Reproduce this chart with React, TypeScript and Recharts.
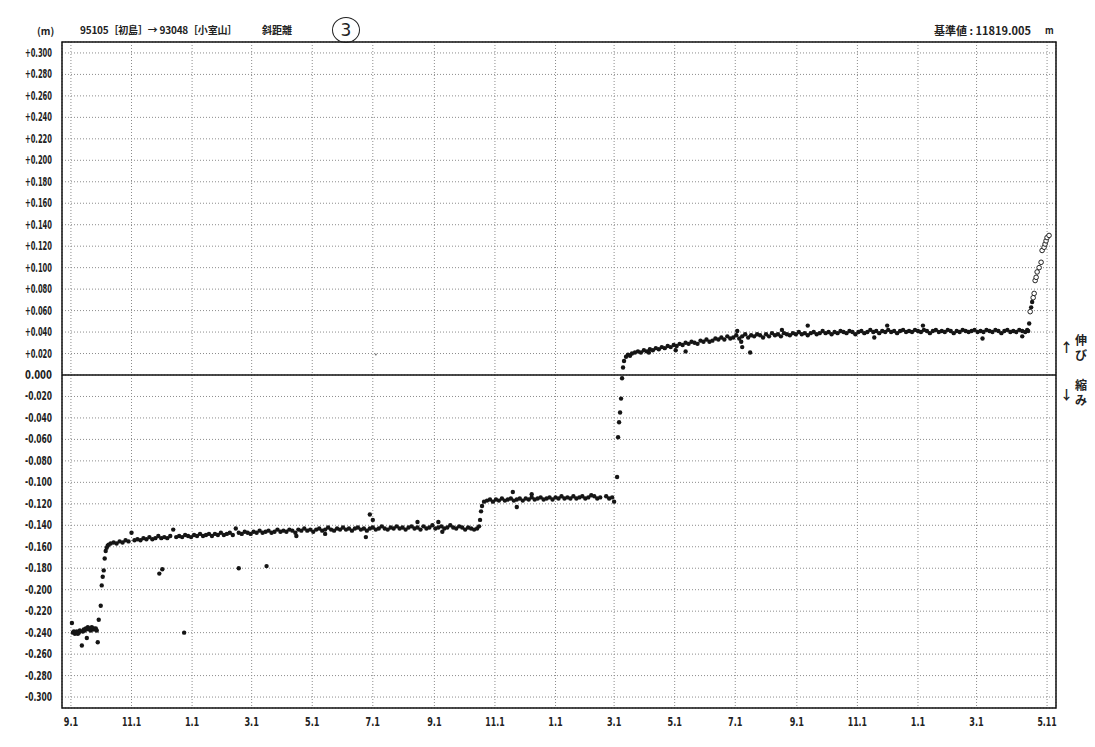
import React from 'react';
import {
  ScatterChart,
  Scatter,
  XAxis,
  YAxis,
  CartesianGrid,
  ReferenceLine,
  ReferenceArea,
} from 'recharts';

// day = days since 9.1 of the first year
const tickDays = [0, 61, 122, 182, 243, 304, 366, 427, 488, 547, 608, 669, 731, 792, 853, 912, 983];
const tickLabels = ['9.1', '11.1', '1.1', '3.1', '5.1', '7.1', '9.1', '11.1', '1.1', '3.1', '5.1', '7.1', '9.1', '11.1', '1.1', '3.1', '5.11'];

const yTicks = [
  -0.3, -0.28, -0.26, -0.24, -0.22, -0.2, -0.18, -0.16, -0.14, -0.12, -0.1, -0.08, -0.06, -0.04, -0.02, 0,
  0.02, 0.04, 0.06, 0.08, 0.1, 0.12, 0.14, 0.16, 0.18, 0.2, 0.22, 0.24, 0.26, 0.28, 0.3,
];

// [day, metres]
const startAndFirstJump = [
  [1, -0.231], [2, -0.240], [3, -0.239], [4, -0.241], [5, -0.240], [6, -0.239], [7, -0.241], [8, -0.240],
  [9, -0.238], [11, -0.252], [12, -0.239], [13, -0.237], [14, -0.238], [15, -0.236], [16, -0.245], [17, -0.235],
  [18, -0.237], [19, -0.236], [20, -0.238], [21, -0.235], [22, -0.237], [23, -0.236], [24, -0.237], [25, -0.236],
  [26, -0.238], [27, -0.249], [28, -0.228], [30, -0.215], [31, -0.196], [32, -0.188], [33, -0.182], [34, -0.171],
  [35, -0.164], [36, -0.161], [37, -0.159], [38, -0.158],
];

const firstPlateau = [
  [40, -0.157], [43, -0.156], [46, -0.157], [49, -0.155], [52, -0.156], [55, -0.154], [58, -0.155], [61, -0.147],
  [64, -0.154], [67, -0.153], [70, -0.154], [73, -0.152], [76, -0.153], [79, -0.151], [82, -0.153], [85, -0.152],
  [88, -0.150], [91, -0.152], [94, -0.151], [97, -0.152], [100, -0.150], [103, -0.144], [106, -0.151], [109, -0.150],
  [112, -0.151], [115, -0.149], [118, -0.150], [121, -0.151], [124, -0.149], [127, -0.150], [130, -0.148], [133, -0.150],
  [136, -0.149], [139, -0.148], [142, -0.150], [145, -0.148], [148, -0.149], [151, -0.147], [154, -0.149], [157, -0.148],
  [160, -0.147], [163, -0.149], [166, -0.143], [169, -0.147], [172, -0.148], [175, -0.146], [178, -0.147], [181, -0.148],
  [184, -0.146], [187, -0.147], [190, -0.145], [193, -0.147], [196, -0.146], [199, -0.145], [202, -0.147], [205, -0.146],
  [208, -0.144], [211, -0.146], [214, -0.145], [217, -0.146], [220, -0.144], [223, -0.145], [226, -0.147], [229, -0.144],
  [232, -0.145], [235, -0.143], [238, -0.145], [241, -0.144], [244, -0.146], [247, -0.144], [250, -0.143], [253, -0.145],
  [256, -0.144], [259, -0.142], [262, -0.144], [265, -0.145], [268, -0.143], [271, -0.144], [274, -0.142], [277, -0.144],
  [280, -0.143], [283, -0.145], [286, -0.143], [289, -0.142], [292, -0.144], [295, -0.143], [298, -0.145], [301, -0.143],
  [304, -0.142], [307, -0.144], [310, -0.143], [313, -0.141], [316, -0.143], [319, -0.144], [322, -0.142], [325, -0.143],
  [328, -0.141], [331, -0.143], [334, -0.142], [337, -0.144], [340, -0.142], [343, -0.141], [346, -0.143], [349, -0.142],
  [352, -0.144], [355, -0.141], [358, -0.143], [361, -0.142], [364, -0.140], [367, -0.143], [370, -0.142], [373, -0.141],
  [376, -0.143], [379, -0.142], [382, -0.140], [385, -0.142], [388, -0.143], [391, -0.141], [394, -0.142], [397, -0.144],
  [400, -0.142], [403, -0.143], [406, -0.144], [409, -0.143],
];

const firstStrays = [
  [89, -0.185], [92, -0.181], [114, -0.240], [169, -0.180], [197, -0.178], [227, -0.150], [256, -0.148],
  [297, -0.151], [301, -0.130], [304, -0.135], [349, -0.137], [370, -0.137], [374, -0.146],
];

const secondPlateau = [
  [411, -0.141], [412, -0.135], [413, -0.127], [414, -0.122], [416, -0.118],
  [419, -0.117], [422, -0.116], [425, -0.118], [428, -0.116], [431, -0.117], [434, -0.115], [437, -0.117], [440, -0.116],
  [443, -0.115], [446, -0.117], [449, -0.116], [452, -0.115], [455, -0.117], [458, -0.115], [461, -0.116], [464, -0.114],
  [467, -0.116], [470, -0.115], [473, -0.114], [476, -0.116], [479, -0.115], [482, -0.114], [485, -0.116], [488, -0.114],
  [491, -0.115], [494, -0.113], [497, -0.115], [500, -0.114], [503, -0.115], [506, -0.113], [509, -0.115], [512, -0.114],
  [515, -0.113], [518, -0.115], [521, -0.114], [527, -0.113], [530, -0.115], [533, -0.114], [539, -0.113], [542, -0.115],
  [545, -0.114],
];

const secondStrays = [[445, -0.109], [449, -0.123], [464, -0.111], [524, -0.112], [547, -0.118]];

const secondJump = [
  [550, -0.095], [551, -0.058], [552, -0.044], [553, -0.035], [554, -0.022], [555, -0.003], [556, 0.007], [557, 0.013],
  [559, 0.017], [561, 0.019], [563, 0.018],
];

const thirdPlateau = [
  [565, 0.020], [568, 0.021], [571, 0.022], [574, 0.021], [577, 0.023], [580, 0.022], [583, 0.024], [586, 0.023],
  [589, 0.025], [592, 0.024], [595, 0.026], [598, 0.025], [601, 0.027], [604, 0.026], [607, 0.028], [610, 0.027],
  [613, 0.029], [616, 0.028], [619, 0.030], [622, 0.029], [625, 0.031], [628, 0.030], [631, 0.029], [634, 0.032],
  [637, 0.031], [640, 0.033], [643, 0.031], [646, 0.032], [649, 0.034], [652, 0.033], [655, 0.035], [658, 0.033],
  [661, 0.036], [664, 0.034], [667, 0.035], [670, 0.037], [673, 0.034], [676, 0.036], [679, 0.038], [682, 0.035],
  [685, 0.037], [688, 0.036], [691, 0.038], [694, 0.037], [697, 0.035], [700, 0.038], [703, 0.036], [706, 0.039],
  [709, 0.037], [712, 0.038], [715, 0.036], [718, 0.039], [721, 0.038], [724, 0.037], [727, 0.039], [730, 0.038],
  [733, 0.040], [736, 0.038], [739, 0.039], [742, 0.037], [745, 0.039], [748, 0.040], [751, 0.038], [754, 0.039],
  [757, 0.041], [760, 0.039], [763, 0.040], [766, 0.038], [769, 0.040], [772, 0.039], [775, 0.041], [778, 0.040],
  [781, 0.039], [784, 0.041], [787, 0.040], [790, 0.038], [793, 0.040], [796, 0.041], [799, 0.039], [802, 0.040],
  [805, 0.042], [808, 0.040], [811, 0.041], [814, 0.039], [817, 0.041], [820, 0.040], [823, 0.042], [826, 0.040],
  [829, 0.041], [832, 0.039], [835, 0.041], [838, 0.042], [841, 0.040], [844, 0.041], [847, 0.040], [850, 0.042],
  [853, 0.041], [856, 0.040], [859, 0.042], [862, 0.041], [865, 0.039], [868, 0.041], [871, 0.042], [874, 0.040],
  [877, 0.041], [880, 0.040], [883, 0.042], [886, 0.041], [889, 0.039], [892, 0.041], [895, 0.040], [898, 0.042],
  [901, 0.041], [904, 0.040], [907, 0.041], [910, 0.042], [913, 0.040], [916, 0.041], [919, 0.040], [922, 0.042],
  [925, 0.041], [928, 0.040], [931, 0.042], [934, 0.041], [937, 0.039], [940, 0.041], [943, 0.042], [946, 0.040],
  [949, 0.041], [952, 0.040], [955, 0.042], [958, 0.041], [961, 0.040], [963, 0.042], [964, 0.041],
];

const thirdStrays = [
  [582, 0.021], [609, 0.023], [619, 0.022], [671, 0.041], [675, 0.031], [676, 0.026], [684, 0.021], [716, 0.042],
  [742, 0.046], [809, 0.035], [822, 0.046], [858, 0.046], [918, 0.034], [958, 0.036],
];

const finalRiseFilled = [[965, 0.048], [967, 0.063], [968, 0.068]];

const finalRiseOpen = [
  [966, 0.059], [969, 0.072], [970, 0.076], [971, 0.088], [972, 0.091], [973, 0.096], [975, 0.100], [977, 0.105],
  [978, 0.116], [980, 0.119], [981, 0.122], [982, 0.125], [983, 0.128], [985, 0.130],
];

const faintDots = [[307, 0.019]];

const toPoints = (rows: number[][]) => rows.map(([day, v]) => ({ day, v }));

const filledPoints = toPoints([
  ...startAndFirstJump,
  ...firstPlateau,
  ...firstStrays,
  ...secondPlateau,
  ...secondStrays,
  ...secondJump,
  ...thirdPlateau,
  ...thirdStrays,
  ...finalRiseFilled,
]);

const X_DOMAIN: [number, number] = [-9, 992];
const Y_DOMAIN: [number, number] = [-0.3102, 0.3102];

const tickFont = "'DejaVu Sans Condensed', 'DejaVu Sans', sans-serif";
const jpFont = "'Noto Sans CJK JP', 'DejaVu Sans', sans-serif";

const fmtY = (v: number) => {
  if (Math.abs(v) < 1e-9) return '0.000';
  return v > 0 ? `+${v.toFixed(3)}` : v.toFixed(3);
};

const fmtX = (d: number) => {
  const i = tickDays.indexOf(d);
  return i >= 0 ? tickLabels[i] : '';
};

// narrow, printer-like tick text
const YTick = (props: any) => (
  <text
    x={props.x}
    y={props.y}
    dy={4}
    textAnchor="end"
    fontSize={12}
    fontWeight={700}
    fontFamily={tickFont}
    fill="#222"
    textLength={27}
    lengthAdjust="spacingAndGlyphs"
  >
    {fmtY(props.payload.value)}
  </text>
);

const XTick = (props: any) => {
  const s = fmtX(props.payload.value);
  return (
    <text
      x={props.x}
      y={props.y}
      dy={10}
      textAnchor="middle"
      fontSize={12}
      fontWeight={700}
      fontFamily={tickFont}
      fill="#222"
      textLength={s.length * 4.8}
      lengthAdjust="spacingAndGlyphs"
    >
      {s}
    </text>
  );
};

const Dot = (props: any) => <circle cx={props.cx} cy={props.cy} r={2.2} fill="#151515" />;
const OpenDot = (props: any) => (
  <circle cx={props.cx} cy={props.cy} r={2.3} fill="#fff" stroke="#222" strokeWidth={1} />
);
const FaintDot = (props: any) => <circle cx={props.cx} cy={props.cy} r={1} fill="#777" />;

const label = (left: number, top: number, text: string, extra: React.CSSProperties = {}) => (
  <div
    style={{
      position: 'absolute',
      left,
      top,
      fontFamily: jpFont,
      fontSize: 11,
      fontWeight: 700,
      color: '#222',
      whiteSpace: 'nowrap',
      lineHeight: '14px',
      ...extra,
    }}
  >
    {text}
  </div>
);

const App = () => {
  return (
    <div style={{ position: 'absolute', left: 0, top: 0, width: 1095, height: 747, background: '#fff' }}>
      <ScatterChart width={1095} height={747} margin={{ top: 42, right: 39, bottom: 0, left: 0 }}>
        <CartesianGrid stroke="#8c8c8c" strokeDasharray="1 2" strokeWidth={1} />
        <XAxis
          type="number"
          dataKey="day"
          domain={X_DOMAIN}
          ticks={tickDays}
          tickFormatter={fmtX}
          height={39}
          axisLine={false}
          tickLine={false}
          tickMargin={2}
          interval={0}
          allowDataOverflow
          tick={<XTick />}
        />
        <YAxis
          type="number"
          dataKey="v"
          domain={Y_DOMAIN}
          ticks={yTicks}
          tickFormatter={fmtY}
          width={62}
          axisLine={false}
          tickLine={false}
          tickMargin={4}
          interval={0}
          allowDataOverflow
          tick={<YTick />}
        />
        <ReferenceLine y={0} stroke="#111" strokeWidth={1.5} />
        <ReferenceArea
          x1={X_DOMAIN[0]}
          x2={X_DOMAIN[1]}
          y1={Y_DOMAIN[0]}
          y2={Y_DOMAIN[1]}
          fill="none"
          fillOpacity={0}
          stroke="#111"
          strokeWidth={1.5}
          ifOverflow="visible"
        />
        <Scatter data={toPoints(faintDots)} shape={FaintDot} isAnimationActive={false} />
        <Scatter data={filledPoints} shape={Dot} isAnimationActive={false} />
        <Scatter data={toPoints(finalRiseOpen)} shape={OpenDot} isAnimationActive={false} />
      </ScatterChart>

      {label(37, 24, '(m)', { fontSize: 10 })}
      {label(80, 23, '95105［初島］→ 93048［小室山］', { fontSize: 10, letterSpacing: -0.2 })}
      {label(262, 23, '斜距離', { fontSize: 10 })}
      <div
        style={{
          position: 'absolute',
          left: 332,
          top: 17,
          width: 26,
          height: 24,
          border: '1.3px solid #222',
          borderRadius: '50%',
          fontFamily: "'DejaVu Sans', sans-serif",
          fontSize: 17,
          lineHeight: '24px',
          textAlign: 'center',
          color: '#222',
        }}
      >
        3
      </div>
      {label(934, 23, '基準値 : 11819.005')}
      {label(1045, 24, 'm', { fontSize: 9 })}

      {label(1060, 340, '↑', { fontSize: 13 })}
      {label(1075, 333, '伸', { fontSize: 12 })}
      {label(1075, 348, 'び', { fontSize: 12 })}
      {label(1060, 387, '↓', { fontSize: 13 })}
      {label(1075, 378, '縮', { fontSize: 12 })}
      {label(1075, 393, 'み', { fontSize: 12 })}
    </div>
  );
};

export default App;
